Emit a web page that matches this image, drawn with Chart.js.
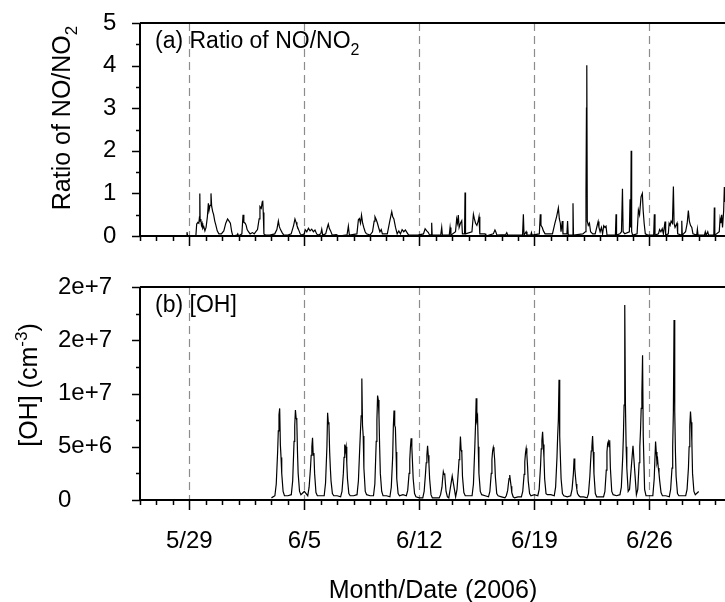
<!DOCTYPE html>
<html>
<head>
<meta charset="utf-8">
<script src="https://cdn.jsdelivr.net/npm/chart.js@4.4.1/dist/chart.umd.min.js"></script>
<style>
  html, body { margin: 0; padding: 0; background: #fff; overflow: hidden; }
  #wrap { position: relative; width: 725px; height: 602px; }
  canvas { position: absolute; left: 0; }
  #topChart { top: 0; }
  #bottomChart { top: 262px; }
</style>
</head>
<body>
<div id="wrap">
  <canvas id="topChart" width="725" height="262"></canvas>
  <canvas id="bottomChart" width="725" height="340"></canvas>
</div>
<script>
// x values are days since 5/26/2006 00:00
const weekDays = [3, 10, 17, 24, 31];
const weekLabels = ['5/29', '6/5', '6/12', '6/19', '6/26'];
const xMax = 35.6;

// (a) NO/NO2 ratio
const ratioDay = [
  2.82, 2.86, 2.90, 3.40, 3.45, 3.52, 3.58, 3.62, 3.64, 3.66, 3.70, 3.74, 3.78, 3.82, 3.88, 3.95,
  4.02, 4.10, 4.16, 4.20, 4.26, 4.32, 4.36, 4.42, 4.48, 4.55, 4.62, 4.70, 4.80, 4.95,
  5.10, 5.22, 5.33, 5.42, 5.50, 5.58, 5.65, 5.90, 5.95, 6.00,
  6.20, 6.27, 6.32, 6.40, 6.46, 6.52, 6.60, 6.70, 6.85, 6.95,
  7.05, 7.15, 7.25, 7.30, 7.38, 7.44, 7.47, 7.50, 7.54, 7.65, 7.90,
  8.20, 8.33, 8.42, 8.48, 8.55, 8.65, 8.75, 9.00,
  9.20, 9.35, 9.43, 9.50, 9.55, 9.65, 9.75, 9.85,
  10.00, 10.05, 10.15, 10.25, 10.35, 10.45, 10.55, 10.65, 10.75, 10.85,
  11.00, 11.06, 11.12, 11.30, 11.40, 11.46, 11.52, 11.60, 11.70, 11.95, 12.10,
  12.60, 12.68, 12.74, 13.20, 13.29, 13.35, 13.42, 13.48, 13.55, 13.62, 13.70, 13.78,
  14.00, 14.15, 14.25, 14.30, 14.38, 14.45, 14.52, 14.60, 14.68, 14.75,
  15.05, 15.20, 15.32, 15.38, 15.45, 15.55, 15.65, 15.75, 15.85, 15.95,
  16.05, 16.15, 16.25, 16.35, 16.90,
  17.25, 17.35, 17.45, 17.55, 17.62, 17.72, 17.75, 17.78,
  18.30, 18.36, 18.40, 18.82, 18.87, 18.92,
  19.20, 19.27, 19.32, 19.37, 19.42, 19.50, 19.58, 19.62, 19.75, 19.78, 19.81,
  20.20, 20.29, 20.35, 20.42, 20.50, 20.58, 20.63, 20.68,
  21.00, 21.05, 21.50, 21.60, 21.65, 21.72, 22.25, 22.32, 22.38,
  23.28, 23.33, 23.37, 23.50, 23.55, 23.78, 23.82, 23.86,
  24.30, 24.36, 24.40, 24.48, 24.55, 24.65,
  25.10, 25.25, 25.35, 25.46, 25.52, 25.58, 25.62, 25.70, 25.74, 25.98,
  26.02, 26.06, 26.32, 26.35, 26.38, 26.95,
  27.10, 27.14, 27.17, 27.19, 27.22, 27.28, 27.35, 27.42, 27.55, 27.70, 27.88, 27.93,
  28.00, 28.08, 28.15, 28.22, 28.30, 28.36, 28.42, 28.93, 28.97,
  29.00, 29.20, 29.30, 29.36, 29.40, 29.50, 29.78, 29.82, 29.86, 29.89, 29.92, 29.98,
  30.25, 30.33, 30.40, 30.49, 30.57, 30.62, 30.68, 30.75, 30.90,
  31.26, 31.30, 31.34, 31.55, 31.62, 31.70, 31.78, 31.85, 31.95, 31.99,
  32.15, 32.20, 32.26, 32.32, 32.40, 32.46, 32.50, 32.56, 32.62, 32.68, 32.72, 32.94, 32.97,
  33.00, 33.20, 33.30, 33.37, 33.43, 33.50, 33.58, 33.65, 33.88, 33.92, 33.96,
  34.35, 34.40, 34.45, 34.55, 34.60, 34.92, 34.95, 34.98,
  35.25, 35.30, 35.35, 35.40, 35.45, 35.52, 35.56, 35.60
];
const ratioVal = [
  0, 0.09, 0, 0, 0.28, 0.32, 0.30, 0.45, 1.00, 0.35, 0.40, 0.25, 0.30, 0.18, 0.22, 0.12,
  0.20, 0.45, 0.77, 0.60, 0.72, 1.00, 0.70, 0.58, 0.50, 0.35, 0.25, 0.12, 0.05, 0.05,
  0.12, 0.30, 0.40, 0.35, 0.30, 0.10, 0, 0.02, 0.05, 0,
  0.05, 0.50, 0.32, 0.30, 0.25, 0.15, 0.10, 0.05, 0.08, 0.05,
  0.10, 0.15, 0.40, 0.69, 0.65, 0.80, 0.83, 0.55, 0.05, 0.02, 0.02,
  0.05, 0.15, 0.35, 0.22, 0.15, 0.08, 0.02, 0.02,
  0.05, 0.25, 0.40, 0.32, 0.25, 0.15, 0.05, 0.02,
  0.05, 0.15, 0.10, 0.18, 0.12, 0.16, 0.10, 0.14, 0.05, 0.02,
  0.05, 0.16, 0.02, 0.05, 0.20, 0.28, 0.18, 0.12, 0.02, 0.03, 0,
  0.03, 0.23, 0.02, 0.05, 0.38, 0.41, 0.30, 0.49, 0.30, 0.20, 0.10, 0.05,
  0.02, 0.10, 0.35, 0.45, 0.38, 0.30, 0.20, 0.10, 0.15, 0.05,
  0.05, 0.35, 0.57, 0.45, 0.40, 0.20, 0.05, 0.12, 0.05, 0.15,
  0.10, 0.14, 0.08, 0.02, 0.02,
  0.05, 0.17, 0.12, 0.08, 0.02, 0.03, 0.31, 0.02,
  0.02, 0.20, 0.02, 0.02, 0.20, 0.02,
  0.10, 0.40, 0.30, 0.49, 0.20, 0.30, 0.36, 0.05, 0.05, 1.02, 0.05,
  0.10, 0.51, 0.40, 0.30, 0.25, 0.35, 0.45, 0.05,
  0.05, 0, 0.05, 0.14, 0.10, 0.02, 0.03, 0.08, 0.02,
  0.02, 0.51, 0.02, 0.10, 0.02, 0.02, 0.08, 0.02,
  0.05, 0.51, 0.25, 0.20, 0.12, 0.05,
  0.05, 0.30, 0.45, 0.66, 0.40, 0.30, 0.10, 0.35, 0.05, 0.05,
  0.35, 0.02, 0.02, 0.77, 0.02, 0.05,
  0.10, 1.00, 3.00, 4.01, 0.35, 0.25, 0.30, 0.10, 0.05, 0.05, 0.34, 0.20,
  0.10, 0.20, 0.05, 0.24, 0.20, 0.23, 0.02, 0.02, 0.51,
  0.02, 0.05, 0.10, 1.11, 0.10, 0.05, 0.10, 0.86, 0.20, 2.00, 0.10, 0.02,
  0.05, 0.61, 0.50, 0.92, 1.00, 0.60, 0.30, 0.05, 0.02,
  0.02, 0.51, 0.02, 0.05, 0.15, 0.10, 0.17, 0.05, 0.34, 0.02,
  0.05, 0.30, 0.25, 0.35, 0.30, 1.16, 0.30, 0.20, 0.25, 0.30, 0.05, 0.02, 0.36,
  0.02, 0.10, 0.30, 0.60, 0.35, 0.25, 0.20, 0.05, 0.02, 0.16, 0.02,
  0.02, 0.10, 0.02, 0.10, 0.02, 0.02, 0.67, 0.02,
  0.10, 0.41, 0.30, 0.50, 0.20, 0.60, 1.15, 0.80
];
const ratioTicks = [0, 1, 2, 3, 4, 5];

// (b) [OH], units of 1e6 cm-3, one row per day starting 6/3 (day 8)
const ohFirstDay = 8;
const ohHours = [0, 5, 7, 9, 10, 11, 12, 13, 14, 15, 17, 19];
const ohDaily = [
  [0.2, 0.4, 1.5, 4.5, 6.5, 8.0, 8.6, 5.2, 4.0, 2.5, 0.8, 0.4],     // 6/3
  [0.4, 0.5, 1.8, 5.5, 7.0, 8.45, 7.7, 7.5, 4.5, 2.5, 0.8, 0.5],    // 6/4
  [0.8, 0.4, 1.2, 3.0, 4.2, 5.0, 5.85, 4.2, 4.4, 2.5, 0.7, 0.4],    // 6/5
  [0.4, 0.4, 1.6, 5.0, 8.2, 7.3, 7.0, 4.5, 3.0, 1.8, 0.6, 0.4],     // 6/6
  [0.4, 0.3, 0.8, 2.5, 4.0, 5.2, 4.6, 5.0, 3.5, 2.0, 0.6, 0.4],     // 6/7
  [0.4, 0.5, 1.8, 5.0, 6.5, 7.9, 11.4, 7.0, 6.0, 3.0, 0.8, 0.5],    // 6/8
  [0.4, 0.4, 1.5, 5.5, 7.5, 9.8, 9.4, 8.0, 5.0, 2.5, 0.8, 0.4],     // 6/9
  [0.4, 0.3, 1.2, 4.0, 6.9, 8.4, 7.0, 6.8, 4.5, 2.0, 0.6, 0.4],     // 6/10
  [0.5, 0.4, 0.9, 2.5, 3.8, 5.0, 5.8, 5.0, 3.5, 2.0, 0.6, 0.3],     // 6/11
  [0.2, 0.2, 0.8, 2.5, 3.5, 4.2, 5.1, 4.2, 3.4, 2.0, 0.5, 0.2],     // 6/12
  [0.2, 0.2, 0.5, 1.2, 2.0, 2.65, 2.4, 2.5, 1.6, 0.8, 0.3, 0.2],    // 6/13
  [2.25, 0.3, 1.0, 2.8, 3.8, 4.4, 5.95, 4.7, 4.5, 2.2, 0.7, 0.4],   // 6/14
  [0.4, 0.4, 1.5, 5.0, 7.0, 9.55, 7.5, 7.8, 5.0, 2.5, 0.8, 0.5],    // 6/15
  [0.4, 0.3, 0.8, 2.5, 3.8, 4.6, 4.95, 4.6, 3.8, 2.2, 0.6, 0.4],    // 6/16
  [0.3, 0.2, 0.4, 0.9, 1.5, 2.0, 2.35, 1.8, 1.3, 0.7, 0.3, 0.2],    // 6/17
  [0.3, 0.3, 0.8, 2.4, 3.6, 4.4, 4.85, 4.3, 3.2, 1.8, 0.6, 0.4],    // 6/18
  [0.5, 0.4, 1.0, 3.2, 4.8, 5.6, 6.4, 5.2, 4.0, 2.0, 0.6, 0.5],     // 6/19
  [0.5, 0.4, 1.2, 4.0, 6.0, 7.5, 11.3, 6.0, 4.0, 2.0, 0.6, 0.4],    // 6/20
  [0.3, 0.4, 1.0, 2.5, 3.9, 3.0, 2.2, 1.5, 1.0, 0.6, 0.4, 0.3],     // 6/21
  [0.3, 0.2, 0.6, 2.2, 3.5, 4.6, 5.0, 6.0, 4.5, 2.5, 0.6, 0.3],     // 6/22
  [0.3, 0.3, 0.8, 2.8, 4.5, 5.3, 5.5, 5.0, 5.6, 3.0, 0.8, 0.5],     // 6/23
  [0.4, 0.5, 1.2, 4.0, 6.0, 8.9, 18.3, 8.9, 5.0, 3.0, 0.8, 1.0],    // 6/24
  [5.1, 0.5, 1.0, 3.5, 5.0, 6.5, 8.6, 10.0, 13.6, 6.0, 1.0, 0.4],   // 6/25
  [0.4, 0.4, 2.0, 5.5, 4.5, 3.5, 3.8, 3.0, 2.5, 1.8, 0.7, 0.4],     // 6/26
  [0.4, 0.3, 1.0, 3.0, 5.0, 8.3, 16.9, 8.3, 4.5, 2.2, 0.6, 0.4],    // 6/27
  [0.4, 0.4, 1.0, 3.0, 5.0, 7.0, 8.3, 7.3, 5.5, 2.5, 0.8, 0.5],     // 6/28
  [0.8]                                                            // 6/29
];

const FONT = '"Liberation Sans", Arial, sans-serif';
Chart.defaults.font.family = FONT;
Chart.defaults.color = '#000';

function ratioPoints() {
  return ratioDay.map((d, i) => ({ x: d, y: ratioVal[i] }));
}

function ohPoints() {
  const pts = [];
  ohDaily.forEach((row, k) => {
    row.forEach((v, j) => {
      pts.push({ x: ohFirstDay + k + ohHours[j] / 24, y: v * 1e6 });
    });
  });
  return pts;
}

// text with sub/superscript parts, optionally rotated
function drawRich(ctx, parts, x, y, rotated, align) {
  ctx.save();
  ctx.translate(x, y);
  if (rotated) ctx.rotate(-Math.PI / 2);
  ctx.fillStyle = '#000';
  ctx.textBaseline = 'alphabetic';
  ctx.textAlign = 'left';
  let total = 0;
  parts.forEach(p => {
    ctx.font = p.size + 'px ' + FONT;
    p.w = ctx.measureText(p.t).width;
    total += p.w;
  });
  let cx = align === 'center' ? -total / 2 : 0;
  parts.forEach(p => {
    ctx.font = p.size + 'px ' + FONT;
    ctx.fillText(p.t, cx, p.dy || 0);
    cx += p.w;
  });
  ctx.restore();
}

function framePlugin(cfg) {
  return {
    id: 'frame',
    beforeDatasetsDraw(chart) {
      const { ctx, chartArea: a, scales: { x } } = chart;
      ctx.save();
      ctx.strokeStyle = '#8c8c8c';
      ctx.lineWidth = 1.2;
      ctx.setLineDash([8, 5]);
      weekDays.forEach(d => {
        const px = Math.round(x.getPixelForValue(d)) + 0.5;
        ctx.beginPath();
        ctx.moveTo(px, a.top);
        ctx.lineTo(px, a.bottom);
        ctx.stroke();
      });
      ctx.restore();
    },
    afterDraw(chart) {
      const { ctx, chartArea: a, scales: { x, y } } = chart;
      ctx.save();
      ctx.strokeStyle = '#000';
      ctx.lineWidth = 2;
      ctx.beginPath();
      ctx.moveTo(a.left, a.top);
      ctx.lineTo(a.right, a.top);
      ctx.moveTo(a.left, a.top);
      ctx.lineTo(a.left, a.bottom);
      ctx.moveTo(a.left, a.bottom);
      ctx.lineTo(a.right, a.bottom);
      ctx.stroke();

      // day ticks, longer at each week
      ctx.lineWidth = 1.5;
      ctx.beginPath();
      for (let d = 0; d <= Math.floor(xMax); d++) {
        const px = Math.round(x.getPixelForValue(d)) + 0.5;
        const len = weekDays.includes(d) ? 10 : 5;
        ctx.moveTo(px, a.bottom);
        ctx.lineTo(px, a.bottom + len);
      }
      ctx.stroke();

      // y ticks, major and minor
      ctx.beginPath();
      for (let k = 0; k * cfg.yMinor <= y.max + 1e-6; k++) {
        const v = k * cfg.yMinor;
        const py = Math.round(y.getPixelForValue(v)) + 0.5;
        const len = k % 2 === 0 ? 8 : 4;
        ctx.moveTo(a.left, py);
        ctx.lineTo(a.left - len, py);
      }
      ctx.stroke();
      ctx.restore();

      cfg.texts.forEach(t => drawRich(ctx, t.parts, t.x, t.y, t.rotated, t.align));
    }
  };
}

function baseOptions(cfg) {
  return {
    responsive: false,
    maintainAspectRatio: false,
    animation: false,
    layout: { padding: { top: cfg.padTop, left: cfg.padLeft, right: 0, bottom: 0 } },
    plugins: { legend: { display: false }, tooltip: { enabled: false } },
    elements: { point: { radius: 0 }, line: { tension: 0 } },
    scales: {
      x: {
        type: 'linear',
        min: 0,
        max: xMax,
        grid: { display: false, drawTicks: false },
        border: { display: false },
        ticks: {
          display: cfg.showDates,
          stepSize: 1,
          autoSkip: false,
          maxRotation: 0,
          includeBounds: false,
          padding: 27,
          font: { size: 24 },
          callback: v => {
            const i = weekDays.indexOf(v);
            return i >= 0 ? weekLabels[i] : '';
          }
        },
        afterFit: s => {
          s.height = cfg.xHeight;
          s.paddingLeft = 0;
          s.paddingRight = 0;
        }
      },
      y: {
        min: 0,
        max: cfg.yMax,
        grid: { display: false, drawTicks: false },
        border: { display: false },
        ticks: {
          stepSize: cfg.yMinor,
          autoSkip: false,
          crossAlign: 'far',
          font: { size: 24 },
          callback: cfg.yLabel
        },
        afterFit: s => {
          s.width = cfg.yWidth;
          s.paddingTop = 0;
          s.paddingBottom = 0;
        }
      }
    }
  };
}

const topCfg = {
  padTop: 23, padLeft: 103, yWidth: 37, xHeight: 26,
  yMax: 5, yMinor: 0.5, showDates: false,
  yLabel: v => (ratioTicks.includes(v) ? String(v) : ''),
  texts: [
    { parts: [{ t: '(a) Ratio of NO/NO', size: 23 }, { t: '2', size: 16, dy: 7 }], x: 155, y: 48 },
    { parts: [{ t: 'Ratio of NO/NO', size: 25 }, { t: '2', size: 17, dy: 7 }], x: 70, y: 118, rotated: true, align: 'center' }
  ]
};

const bottomCfg = {
  padTop: 25, padLeft: 58, yWidth: 82, xHeight: 102,
  yMax: 2e7, yMinor: 2.5e6, showDates: true,
  yLabel: v => (v % 5e6 === 0 ? (v === 0 ? '0' : v.toExponential(0)) : ''),
  texts: [
    { parts: [{ t: '(b) [OH]', size: 23 }], x: 155, y: 50 },
    { parts: [{ t: '[OH] (cm', size: 25 }, { t: '-3', size: 17, dy: -10 }, { t: ')', size: 25 }], x: 37, y: 123, rotated: true, align: 'center' },
    { parts: [{ t: 'Month/Date (2006)', size: 25 }], x: 433, y: 336, align: 'center' }
  ]
};

new Chart(document.getElementById('topChart'), {
  type: 'line',
  data: {
    datasets: [{
      data: ratioPoints(),
      borderColor: '#000',
      borderWidth: 1.2,
      fill: false
    }]
  },
  options: baseOptions(topCfg),
  plugins: [framePlugin(topCfg)]
});

new Chart(document.getElementById('bottomChart'), {
  type: 'line',
  data: {
    datasets: [{
      data: ohPoints(),
      borderColor: '#000',
      borderWidth: 1.2,
      fill: false
    }]
  },
  options: baseOptions(bottomCfg),
  plugins: [framePlugin(bottomCfg)]
});
</script>
</body>
</html>
